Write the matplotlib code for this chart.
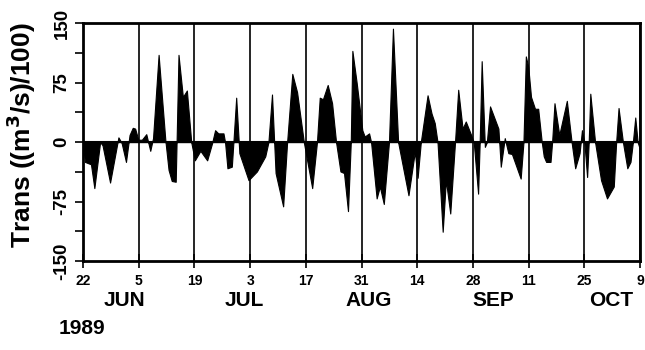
import matplotlib
matplotlib.use("Agg")
from matplotlib import pyplot as plt
from matplotlib import transforms

# days after 22 May 1989, transport in (m^3/s)/100
days = [0, 0.5, 2.0, 2.85, 4.3, 4.9, 6.8, 8.9, 9.7, 10.8, 11.7, 12.5, 13.1, 13.9,
        14.8, 15.9, 16.9, 17.6, 19.0, 20.7, 21.5, 22.3, 23.3, 24.0, 25.1, 26.1,
        27.2, 28.1, 29.5, 31.2, 32.4, 33.2, 34.0, 35.3, 35.7, 36.3, 37.4, 37.8,
        38.5, 39.3, 41.6, 43.7, 45.8, 46.6, 47.5, 48.4, 50.3, 51.3, 52.6, 53.8,
        55.5, 56.0, 57.6, 58.8, 59.5, 60.3, 61.5, 62.6, 63.6, 64.7, 65.6, 66.6,
        67.3, 67.7, 68.8, 70.2, 70.8, 71.9, 72.4, 73.8, 74.6, 75.6, 76.9, 77.9,
        79.2, 81.8, 83.4, 84.1, 84.9, 86.6, 87.6, 88.4, 89.1, 90.4, 91.2, 92.3,
        93.5, 94.3, 95.4, 96.2, 97.7, 98.2, 99.3, 99.7, 100.2, 101.0, 101.5,
        102.3, 104.4, 105.0, 106.0, 106.9, 107.8, 110.0, 110.7, 111.3, 111.9,
        112.6, 113.6, 114.4, 115.3, 115.8, 116.4, 117.5, 117.9, 118.5, 119.7,
        121.6, 122.8, 123.7, 124.8, 125.4, 126.0, 126.7, 127.1, 127.5, 128.7,
        130.2, 131.7, 133.4, 134.0, 134.6, 135.7, 136.8, 137.6, 138.2, 138.8,
        139.4, 139.9]
trans = [-5, -25, -28, -58, 0, -4, -51, 6, -1, -25, 9, 18, 17, 3,
         3, 10, -11, 5, 110, 2, -35, -49, -50, 110, 57, 65,
         0, -23, -11, -23, -2, 15, 11, 11, 0, -33, -31, 0,
         56, -14, -48, -37, -18, 0, 60, -39, -81, 0, 86, 63,
         0, -14, -58, 0, 56, 54, 72, 49, 0, -37, -39, -87,
         0, 115, 74, 15, 7, 11, 0, -71, -56, -78, 0, 143,
         0, -67, -12, -45, 0, 59, 36, 24, 0, -113, -48, -90,
         0, 66, 17, 26, 7, 0, -65, 0, 102, -6, 0,
         45, 17, -31, 5, -14, -15, -46, 0, 108, 95,
         57, 42, 42, 0, -18, -25, -25, 0, 49, 9,
         52, 0, -33, -14, 15, 0, -44, 0, 61, 0,
         -48, -71, -56, 0, 43, 0, -33, -25, 0, 31,
         0, -8]

tick_days = [0, 14, 28, 42, 56, 70, 84, 98, 112, 126, 140]
tick_labels = ["22", "5", "19", "3", "17", "31", "14", "28", "11", "25", "9"]
months = ["JUN", "JUL", "AUG", "SEP", "OCT"]
month_days = [10.3, 40.5, 71.8, 103.0, 132.7]

plt.rcParams['font.family'] = ['Liberation Sans', 'DejaVu Sans']
plt.rcParams['font.weight'] = 'bold'

fig = plt.figure(figsize=(6.45, 3.5), dpi=100)
ax = fig.add_axes([0.1287, 0.254, 0.8636, 0.68])

ax.fill_between(days, trans, 0, color='black', linewidth=0.8)
ax.axhline(0, color='black', linewidth=1.5)
for d in tick_days:
    ax.axvline(d, color='black', linewidth=1.2)

ax.set_xlim(0, 140)
ax.set_ylim(-150, 150)
ax.set_xticks(tick_days)
ax.set_xticklabels(tick_labels, fontsize=10, fontweight='bold')
ax.set_yticks([-150, -75, 0, 75, 150])
ax.set_yticklabels(["-150", "-75", "0", "75", "150"], rotation=90, va='center',
                   fontsize=13.5, fontweight='bold')
ax.set_yticks([-112.5, -37.5, 37.5, 112.5], minor=True)
ax.tick_params(axis='y', which='both', direction='out', length=6, width=1.2, pad=3)
ax.tick_params(axis='x', direction='inout', length=10, width=1.2, pad=4)
for s in ax.spines.values():
    s.set_linewidth(2)

# y axis title
fig.text(0.033, 0.615, "Trans ((m$^3$/s)/100)", rotation=90, ha='center', va='center',
         fontsize=19, fontweight='bold')

trans_m = transforms.blended_transform_factory(ax.transData, fig.transFigure)
for m, d in zip(months, month_days):
    ax.text(d, 0.14, m, transform=trans_m, ha='center', va='center',
            fontsize=15, fontweight='bold')
fig.text(0.127, 0.06, "1989", ha='center', va='center', fontsize=15, fontweight='bold')

fig.savefig("out.png", dpi=100)
